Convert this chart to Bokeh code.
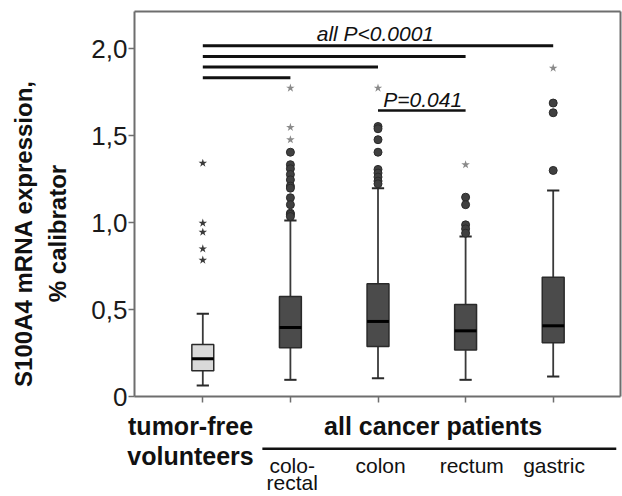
import numpy as np
from bokeh.plotting import figure
from bokeh.models import Range1d, FixedTicker, Label
from bokeh.embed import file_html
from bokeh.resources import INLINE

# ---- data ----
cats = [1, 2, 3, 4, 5]
box_lo = [0.063, 0.096, 0.105, 0.096, 0.115]
box_q1 = [0.148, 0.280, 0.288, 0.267, 0.309]
box_med = [0.217, 0.397, 0.432, 0.378, 0.407]
box_q3 = [0.300, 0.576, 0.649, 0.530, 0.687]
box_hi = [0.476, 1.013, 1.199, 0.921, 1.186]

circ_colorectal = [1.406, 1.334, 1.311, 1.278, 1.247, 1.211, 1.199, 1.144, 1.104, 1.055, 1.048, 1.036]
circ_colon = [1.554, 1.541, 1.478, 1.406, 1.307, 1.286, 1.263, 1.240, 1.224]
circ_rectum = [1.147, 1.104, 0.988, 0.965, 0.940]
circ_gastric = [1.689, 1.633, 1.301]

star_control = [1.343, 0.998, 0.946, 0.850, 0.785]
star_colorectal = [1.775, 1.549, 1.478]
star_colon = [1.775]
star_rectum = [1.334]
star_gastric = [1.890]

sig_x0 = [1, 1, 1, 1, 3]
sig_x1 = [5, 4, 3, 2, 4]
sig_y = [2.019, 1.957, 1.896, 1.835, 1.646]

ytick_vals = [0, 0.5, 1, 1.5, 2]
ytick_labels = ["0", "0,5", "1,0", "1,5", "2,0"]

FONT = "Liberation Sans"
GRAY = "#6e6e6e"

# visible plot box (data units)
XL, XR = 0.2203, 5.7683
YT = 2.2158

p = figure(width=622, height=496, output_backend="svg", toolbar_location=None,
           x_range=Range1d(-1.3094, 5.7911), y_range=Range1d(-0.5755, 2.2791),
           min_border_left=0, min_border_right=0, min_border_top=0, min_border_bottom=0)
p.xgrid.visible = False
p.ygrid.visible = False
p.outline_line_color = None
p.background_fill_color = "white"
p.border_fill_color = "white"

ya = p.yaxis[0]
ya.fixed_location = XL
ya.bounds = (0, YT)
ya.ticker = FixedTicker(ticks=ytick_vals)
ya.major_label_overrides = {v: l for v, l in zip(ytick_vals, ytick_labels)}
ya.major_label_text_font = FONT
ya.major_label_text_font_size = "26px"
ya.major_label_text_color = "#1a1a1a"
ya.major_label_standoff = 1
ya.major_tick_in = 0
ya.major_tick_out = 6
ya.major_tick_line_color = GRAY
ya.major_tick_line_width = 1.5
ya.minor_tick_line_color = None
ya.axis_line_color = GRAY
ya.axis_line_width = 2

xa = p.xaxis[0]
xa.fixed_location = 0
xa.bounds = (XL, XR)
xa.ticker = FixedTicker(ticks=cats)
xa.major_label_overrides = {c: "" for c in cats}
xa.major_tick_in = 0
xa.major_tick_out = 6
xa.major_tick_line_color = GRAY
xa.major_tick_line_width = 1.5
xa.minor_tick_line_color = None
xa.axis_line_color = GRAY
xa.axis_line_width = 2

# top and right border of the plot box
p.segment(x0=[XL, XR], x1=[XR, XR], y0=[YT, 0], y1=[YT, YT], line_color=GRAY, line_width=2)

xs = np.array(cats, dtype=float)
bw = 0.25
cw = 0.07
fills = ["#d9d9d9", "#4b4b4b", "#4b4b4b", "#4b4b4b", "#4b4b4b"]

# whiskers
p.segment(x0=xs, x1=xs, y0=box_q3, y1=box_hi, line_color="#3a3a3a", line_width=1.8)
p.segment(x0=xs, x1=xs, y0=box_lo, y1=box_q1, line_color="#3a3a3a", line_width=1.8)
p.segment(x0=xs - cw, x1=xs + cw, y0=box_hi, y1=box_hi, line_color="#2a2a2a", line_width=2)
p.segment(x0=xs - cw, x1=xs + cw, y0=box_lo, y1=box_lo, line_color="#2a2a2a", line_width=2)
# boxes
p.vbar(x=xs, width=bw, bottom=box_q1, top=box_q3, fill_color=fills, line_color="#2a2a2a", line_width=1.5)
p.segment(x0=xs - bw / 2, x1=xs + bw / 2, y0=box_med, y1=box_med, line_color="black", line_width=3)

# outliers
cx, cy = [], []
for c, vals in zip([2, 3, 4, 5], [circ_colorectal, circ_colon, circ_rectum, circ_gastric]):
    cx += [c] * len(vals)
    cy += vals
p.scatter(cx, cy, marker="circle", size=8, fill_color="#404040", line_color="#2a2a2a", line_width=1)

p.scatter([1] * len(star_control), star_control, marker="star", size=9,
          fill_color="#3a3a3a", line_color=None)
sx, sy = [], []
for c, vals in zip([2, 3, 4, 5], [star_colorectal, star_colon, star_rectum, star_gastric]):
    sx += [c] * len(vals)
    sy += vals
p.scatter(sx, sy, marker="star", size=9, fill_color="#8a8a8a", line_color=None)

# significance bars
p.segment(x0=sig_x0[:4], x1=sig_x1[:4], y0=sig_y[:4], y1=sig_y[:4], line_color="#111111", line_width=3)
p.segment(x0=sig_x0[4:], x1=sig_x1[4:], y0=sig_y[4:], y1=sig_y[4:], line_color="#111111", line_width=2.5)

def lab(x, y, t, size, style="normal", angle=0.0):
    p.add_layout(Label(x=x, y=y, text=t, text_font=FONT, text_font_style=style, text_font_size=size,
                       angle=angle, text_align="center", text_baseline="middle", text_color="#111111"))

lab(2.97, 2.087, "all P<0.0001", "21px", "italic")
lab(3.51, 1.711, "P=0.041", "21px", "italic")

# y axis title (two lines)
lab(-1.047, 0.938, "S100A4 mRNA expression,", "24px", "bold", np.pi / 2)
lab(-0.659, 0.938, "% calibrator", "24px", "bold", np.pi / 2)

# group labels under the x axis
lab(0.86, -0.1683, "tumor-free", "25px", "bold")
lab(0.86, -0.341, "volunteers", "25px", "bold")
lab(3.63, -0.1683, "all cancer patients", "25px", "bold")
lab(2.02, -0.3951, "colo-", "21px")
lab(2.02, -0.495, "rectal", "21px")
lab(3.03, -0.3951, "colon", "21px")
lab(4.07, -0.3951, "rectum", "21px")
lab(5.01, -0.3951, "gastric", "21px")

p.segment(x0=[1.68], x1=[5.72], y0=[-0.301], y1=[-0.301], line_color="#111111", line_width=2.5)

open("out.html", "w").write(file_html(p, INLINE))
